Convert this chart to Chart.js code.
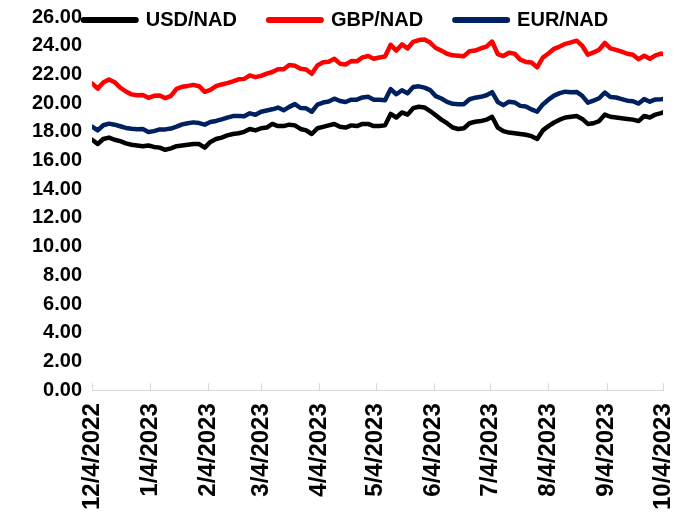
<!DOCTYPE html>
<html>
<head>
<meta charset="utf-8">
<script src="https://cdn.jsdelivr.net/npm/chart.js@4.4.0/dist/chart.umd.min.js"></script>
<style>
  html, body { margin: 0; padding: 0; background: #fff; }
  #wrap { width: 684px; height: 515px; }
</style>
</head>
<body>
<div id="wrap"><canvas id="fxChart" width="684" height="515"></canvas></div>
<script>
// days since 12/4/2022, one sample every 3 days
const days = [0, 3, 6, 9, 12, 15, 18, 21, 24, 27,
    30, 33, 36, 39, 42, 45, 48, 51, 54, 57,
    60, 63, 66, 69, 72, 75, 78, 81, 84, 87,
    90, 93, 96, 99, 102, 105, 108, 111, 114, 117,
    120, 123, 126, 129, 132, 135, 138, 141, 144, 147,
    150, 153, 156, 159, 162, 165, 168, 171, 174, 177,
    180, 183, 186, 189, 192, 195, 198, 201, 204, 207,
    210, 213, 216, 219, 222, 225, 228, 231, 234, 237,
    240, 243, 246, 249, 252, 255, 258, 261, 264, 267,
    270, 273, 276, 279, 282, 285, 288, 291, 294, 297,
    300, 303, 304]

const tickDays = [0, 31, 62, 90, 121, 151, 182, 212, 243, 274, 304]
const tickLabels = ['12/4/2022', '1/4/2023', '2/4/2023', '3/4/2023', '4/4/2023', '5/4/2023',
    '6/4/2023', '7/4/2023', '8/4/2023', '9/4/2023', '10/4/2023']

const usdNad = [17.45, 17.15, 17.5, 17.6, 17.45, 17.35, 17.2, 17.1, 17.05, 17.0,
    17.05, 16.95, 16.9, 16.75, 16.85, 17.0, 17.05, 17.1, 17.15, 17.15,
    16.9, 17.3, 17.5, 17.6, 17.75, 17.85, 17.9, 18.0, 18.2, 18.1,
    18.25, 18.3, 18.55, 18.4, 18.4, 18.5, 18.45, 18.2, 18.1, 17.85,
    18.25, 18.35, 18.45, 18.55, 18.35, 18.3, 18.45, 18.4, 18.55, 18.55,
    18.4, 18.4, 18.45, 19.25, 19.0, 19.35, 19.2, 19.65, 19.75, 19.7,
    19.45, 19.15, 18.85, 18.6, 18.3, 18.2, 18.25, 18.6, 18.7, 18.75,
    18.85, 19.05, 18.3, 18.05, 17.95, 17.9, 17.85, 17.8, 17.7, 17.5,
    18.1, 18.4, 18.65, 18.85, 19.0, 19.05, 19.1, 18.9, 18.55, 18.6,
    18.75, 19.2, 19.05, 19.0, 18.95, 18.9, 18.85, 18.75, 19.1, 19.0,
    19.2, 19.3, 19.35]

const gbpNad = [21.38, 21.01, 21.44, 21.65, 21.46, 21.08, 20.81, 20.61, 20.55, 20.57,
    20.37, 20.51, 20.53, 20.35, 20.5, 21.0, 21.14, 21.2, 21.27, 21.18,
    20.79, 20.93, 21.18, 21.3, 21.39, 21.51, 21.66, 21.69, 21.93, 21.81,
    21.9, 22.05, 22.17, 22.36, 22.36, 22.66, 22.6, 22.39, 22.35, 22.04,
    22.63, 22.85, 22.88, 23.09, 22.75, 22.69, 22.93, 22.91, 23.19, 23.28,
    23.09, 23.18, 23.25, 24.06, 23.66, 24.09, 23.81, 24.27, 24.39, 24.43,
    24.22, 23.84, 23.66, 23.44, 23.33, 23.3, 23.27, 23.62, 23.66, 23.81,
    23.94, 24.29, 23.42, 23.28, 23.51, 23.45, 23.03, 22.87, 22.83, 22.49,
    23.17, 23.46, 23.78, 23.94, 24.13, 24.23, 24.35, 24.0, 23.37, 23.53,
    23.72, 24.19, 23.81, 23.71, 23.59, 23.44, 23.37, 23.06, 23.3, 23.09,
    23.33, 23.45, 23.41]

const eurNad = [18.37, 18.1, 18.46, 18.57, 18.5, 18.39, 18.27, 18.21, 18.18, 18.19,
    17.99, 18.05, 18.17, 18.17, 18.23, 18.36, 18.52, 18.6, 18.66, 18.61,
    18.5, 18.68, 18.76, 18.87, 18.99, 19.1, 19.1, 19.08, 19.29, 19.19,
    19.4, 19.49, 19.57, 19.69, 19.5, 19.74, 19.93, 19.66, 19.64, 19.4,
    19.89, 20.04, 20.11, 20.31, 20.15, 20.08, 20.24, 20.24, 20.4, 20.44,
    20.24, 20.24, 20.2, 20.98, 20.62, 20.9, 20.68, 21.12, 21.17, 21.08,
    20.91, 20.49, 20.32, 20.09, 19.95, 19.93, 19.93, 20.27, 20.38, 20.44,
    20.55, 20.76, 20.08, 19.86, 20.1, 20.05, 19.81, 19.76, 19.56, 19.4,
    19.91, 20.24, 20.52, 20.7, 20.8, 20.76, 20.78, 20.51, 20.03, 20.18,
    20.34, 20.74, 20.42, 20.39, 20.28, 20.17, 20.13, 19.97, 20.28, 20.1,
    20.26, 20.27, 20.28]

const toPoints = (values) => days.map((d, i) => ({ x: d, y: values[i] }))

// tick marks pointing up from the date axis
const innerTicks = {
    id: 'innerTicks',
    afterDraw(chart) {
        const xs = chart.scales.x
        const ctx = chart.ctx
        ctx.save()
        ctx.strokeStyle = '#d9d9d9'
        ctx.lineWidth = 1
        ctx.beginPath()
        xs.ticks.forEach((t) => {
            const px = Math.round(xs.getPixelForValue(t.value)) + 0.5
            ctx.moveTo(px, xs.top)
            ctx.lineTo(px, xs.top - 7)
        })
        ctx.stroke()
        ctx.restore()
    },
}

// the legend floats over the top of the plot, level with 26.00
const legendOverPlot = {
    id: 'legendOverPlot',
    afterLayout(chart) {
        const lg = chart.legend
        lg.left = 8
        lg.right = chart.width
        lg.top = -22
        lg.bottom = 60
    },
}

const fxChart = document.getElementById('fxChart')

new Chart(fxChart, {
    type: 'line',
    data: {
        datasets: [
            { label: 'USD/NAD', data: toPoints(usdNad), borderColor: '#000000', backgroundColor: '#000000' },
            { label: 'GBP/NAD', data: toPoints(gbpNad), borderColor: '#ff0000', backgroundColor: '#ff0000' },
            { label: 'EUR/NAD', data: toPoints(eurNad), borderColor: '#002060', backgroundColor: '#002060' },
        ],
    },
    options: {
        responsive: false,
        animation: false,
        layout: { padding: { left: 22, right: 21, top: 0, bottom: -8 } },
        elements: {
            point: { radius: 0 },
            line: { borderWidth: 4.5, tension: 0, borderJoinStyle: 'round', borderCapStyle: 'round' },
        },
        plugins: {
            tooltip: { enabled: false },
            legend: {
                position: 'top',
                maxHeight: 1,
                labels: {
                    font: { family: 'Liberation Sans', size: 20, weight: 'bold' },
                    color: '#000000',
                    usePointStyle: true,
                    pointStyle: 'line',
                    pointStyleWidth: 52,
                    padding: 32,
                    generateLabels: (chart) =>
                        Chart.defaults.plugins.legend.labels.generateLabels(chart).map((l) => ({
                            ...l,
                            lineWidth: 6,
                            lineCap: 'round',
                        })),
                },
            },
        },
        scales: {
            x: {
                type: 'linear',
                min: 0,
                max: 304,
                grid: { display: false, drawTicks: false },
                border: { display: true, color: '#d9d9d9', width: 1 },
                afterBuildTicks: (scale) => {
                    scale.ticks = tickDays.map((v) => ({ value: v }))
                },
                afterFit: (scale) => {
                    scale.paddingRight = 0
                },
                ticks: {
                    autoSkip: false,
                    minRotation: 90,
                    maxRotation: 90,
                    padding: 13,
                    color: '#000000',
                    font: { family: 'Liberation Sans', size: 24, weight: 'bold' },
                    callback: (value, index) => tickLabels[index],
                },
            },
            y: {
                min: 0,
                max: 26,
                grid: { display: false, drawTicks: false },
                border: { display: false },
                afterFit: (scale) => {
                    scale.paddingTop = 17
                },
                ticks: {
                    stepSize: 2,
                    padding: 10,
                    color: '#000000',
                    font: { family: 'Liberation Sans', size: 20, weight: 'bold' },
                    callback: (value) => value.toFixed(2),
                },
            },
        },
    },
    plugins: [innerTicks, legendOverPlot],
})
</script>
</body>
</html>
